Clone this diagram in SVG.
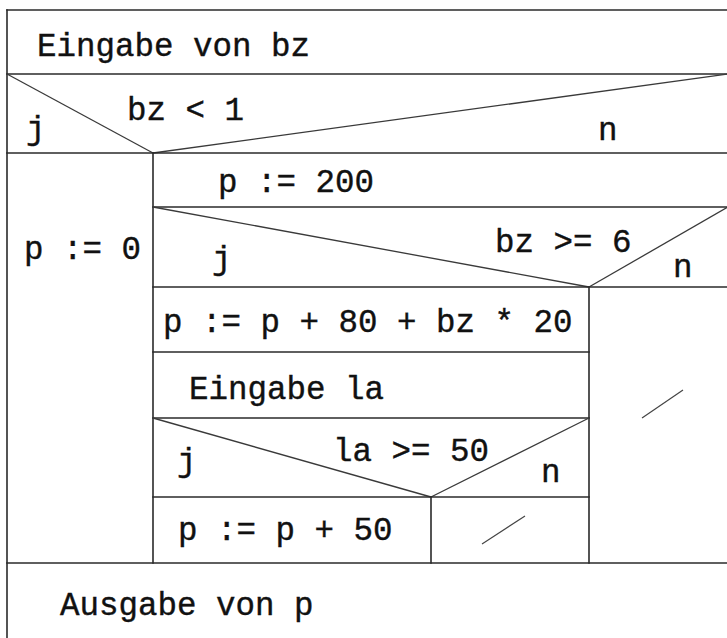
<svg xmlns="http://www.w3.org/2000/svg" width="727" height="638" viewBox="0 0 727 638">
<style>
.ln{stroke:#2a2a2a;stroke-width:1.6;fill:none;stroke-linecap:square}
.dg{stroke:#3a3a3a;stroke-width:1.3;fill:none}
.sl{stroke:#444;stroke-width:1.2;fill:none}
.t{font-family:"Liberation Mono","Courier New",monospace;font-size:32.5px;fill:#111;stroke:#111;stroke-width:0.4}
</style>
<rect x="0" y="0" width="727" height="638" fill="#fff"/>
<g id="frame">
<line class="ln" x1="7" y1="10" x2="727" y2="10"/>
<line class="ln" x1="7" y1="10" x2="7" y2="638"/>
</g>
<g id="input-bz">
<line class="ln" x1="7" y1="74" x2="727" y2="74"/>
<text class="t" x="37" y="56">Eingabe von bz</text>
</g>
<g id="cond-bz-lt-1">
<line class="dg" x1="7" y1="74" x2="153" y2="153"/>
<line class="dg" x1="153" y1="153" x2="728" y2="74"/>
<line class="ln" x1="7" y1="153" x2="727" y2="153"/>
<text class="t" x="127" y="120">bz &lt; 1</text>
<text class="t" x="26" y="139">j</text>
<text class="t" x="598" y="140">n</text>
</g>
<g id="p-0">
<line class="ln" x1="153" y1="153" x2="153" y2="563"/>
<text class="t" x="24" y="259">p := 0</text>
</g>
<g id="p-200">
<line class="ln" x1="153" y1="207" x2="727" y2="207"/>
<text class="t" x="218" y="192">p := 200</text>
</g>
<g id="cond-bz-ge-6">
<line class="dg" x1="153" y1="207" x2="589" y2="287"/>
<line class="dg" x1="589" y1="287" x2="728" y2="207"/>
<line class="ln" x1="153" y1="287" x2="727" y2="287"/>
<line class="ln" x1="589" y1="287" x2="589" y2="563"/>
<text class="t" x="495" y="252">bz &gt;= 6</text>
<text class="t" x="212" y="269">j</text>
<text class="t" x="673" y="277">n</text>
</g>
<g id="empty-right">
<line class="sl" x1="642" y1="418" x2="683" y2="390"/>
</g>
<g id="p-calc">
<line class="ln" x1="153" y1="352" x2="589" y2="352"/>
<text class="t" x="163" y="332">p := p + 80 + bz * 20</text>
</g>
<g id="input-la">
<line class="ln" x1="153" y1="418" x2="589" y2="418"/>
<text class="t" x="189" y="399">Eingabe la</text>
</g>
<g id="cond-la-ge-50">
<line class="dg" x1="153" y1="418" x2="431" y2="497"/>
<line class="dg" x1="431" y1="497" x2="589" y2="418"/>
<line class="ln" x1="153" y1="497" x2="589" y2="497"/>
<line class="ln" x1="431" y1="497" x2="431" y2="563"/>
<text class="t" x="333" y="461">la &gt;= 50</text>
<text class="t" x="177" y="471">j</text>
<text class="t" x="541" y="482">n</text>
</g>
<g id="p-plus-50">
<text class="t" x="178" y="540">p := p + 50</text>
</g>
<g id="empty-inner">
<line class="sl" x1="482" y1="544" x2="525" y2="516"/>
</g>
<g id="output-p">
<line class="ln" x1="7" y1="563" x2="727" y2="563"/>
<text class="t" x="60" y="615">Ausgabe von p</text>
</g>
</svg>
